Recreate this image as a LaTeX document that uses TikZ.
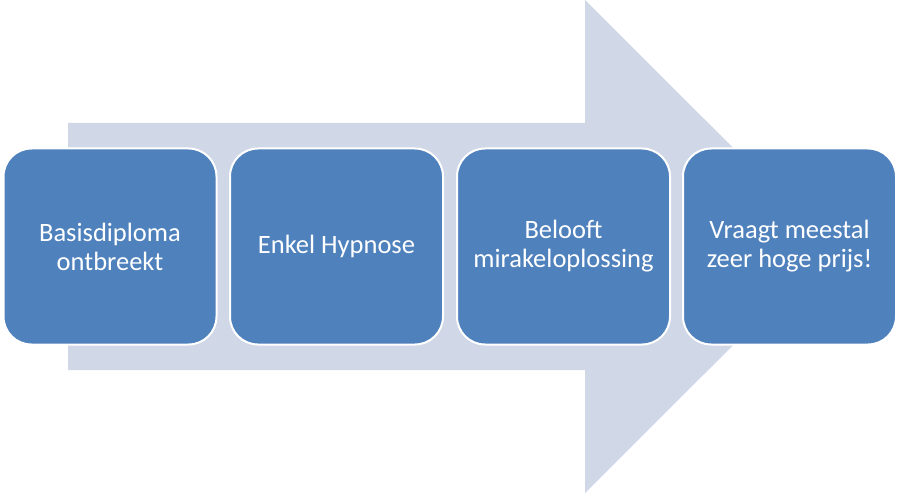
\documentclass[tikz,border=0pt]{standalone}
\usepackage{fontspec}
\setmainfont{Carlito}
\definecolor{boxblue}{HTML}{4F81BD}
\definecolor{arrowgray}{HTML}{D0D8E8}
\begin{document}
\begin{tikzpicture}[x=1pt,y=-1pt,
  box/.style={draw=white, line width=2pt, fill=boxblue, rounded corners=28pt,
    minimum width=213pt, minimum height=196pt, text=white, align=center,
    font=\fontsize{26.5}{29}\selectfont, inner sep=0pt}]
\useasboundingbox (0,0) rectangle (900,500);
\fill[white] (0,0) rectangle (900,500);
\fill[arrowgray] (68,123) -- (585,123) -- (585,0) -- (832,246.5) -- (585,493) -- (585,370) -- (68,370) -- cycle;
\node[box] (b1) at (110,246.5) {Basisdiploma\\ontbreekt};
\node[box] (b2) at (336.5,246.5) {Enkel Hypnose};
\node[box] (b3) at (563.5,246.5) {Belooft\\mirakeloplossing};
\node[box] (b4) at (789.5,246.5) {Vraagt meestal\\zeer hoge prijs!};
\end{tikzpicture}
\end{document}
